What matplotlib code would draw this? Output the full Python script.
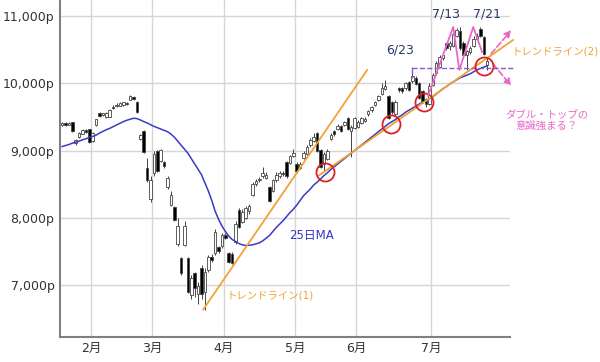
import numpy as np
import matplotlib
matplotlib.use("Agg")
import matplotlib.pyplot as plt

plt.rcParams['font.family'] = ['DejaVu Sans', 'Noto Sans CJK JP']

# 日足 (2020/1/21 - 7/27), 値はチャートから読み取り
opens = [9380, 9400, 9390, 9420, 9110, 9200, 9250, 9300, 9310,
         9150, 9380, 9560, 9530, 9500, 9510, 9650, 9660, 9670, 9680, 9700, 9760, 9790, 9720, 9170, 9290, 8740, 8280,
         8670, 8990, 8850, 8820, 8460, 8190, 8160, 7620, 7400, 7600, 7400, 6860, 7180, 6880, 7250, 6900, 7230, 7420, 7480, 7560, 7580,
         7740, 7470, 7460, 7640, 8120, 7950, 8000, 8100, 8340, 8510, 8560, 8620, 8600, 8450, 8400, 8560, 8620, 8670, 8830, 8820, 8930,
         8790, 8750, 8900, 8960, 9080, 9150, 9250, 9000, 8800, 8880, 9180, 9280, 9320, 9360, 9380, 9480, 9300, 9340,
         9350, 9420, 9450, 9540, 9600, 9680, 9760, 9850, 9920, 9800, 9720, 9550, 9920, 9930, 9930, 10020, 10030, 10080, 10000, 9880, 9760, 9700,
         9980, 10150, 10250, 10380, 10590, 10550, 10560, 10700, 10770, 10600, 10420, 10470, 10560, 10660, 10800, 10680, 10280]
closes = [9400, 9390, 9410, 9300, 9150, 9250, 9300, 9280, 9130,
          9260, 9460, 9520, 9550, 9560, 9600, 9640, 9680, 9700, 9710, 9690, 9800, 9770, 9580, 9220, 8980, 8560, 8560,
          8940, 8700, 9000, 8780, 8590, 8340, 7970, 7880, 7180, 7880, 6900, 7100, 6960, 6980, 6880, 7200, 7420, 7380, 7790, 7510, 7740,
          7700, 7350, 7340, 7900, 7870, 8090, 8150, 8170, 8500, 8540, 8580, 8660, 8640, 8250, 8560, 8640, 8660, 8650, 8620, 8910, 8960,
          8700, 8800, 8960, 9050, 9150, 9200, 9000, 8760, 8950, 8990, 9230, 9250, 9360, 9300, 9420, 9320, 9350, 9480,
          9420, 9480, 9470, 9580, 9640, 9720, 9810, 9930, 9960, 9490, 9580, 9720, 9900, 9890, 10000, 9900, 10100, 10000, 9790, 9740, 9700, 9960,
          10120, 10300, 10380, 10420, 10520, 10590, 10720, 10780, 10520, 10430, 10470, 10520, 10660, 10700, 10700, 10440, 10330]
highs = [9420, 9420, 9430, 9430, 9170, 9270, 9320, 9320, 9320,
         9280, 9470, 9580, 9560, 9570, 9620, 9670, 9700, 9720, 9720, 9720, 9820, 9810, 9730, 9240, 9300, 8890, 8620,
         9000, 9010, 9030, 8850, 8620, 8400, 8180, 8000, 7420, 7950, 7420, 7150, 7200, 7050, 7300, 7250, 7450, 7460, 7830, 7590, 7780,
         7780, 7500, 7490, 7950, 8150, 8140, 8180, 8200, 8540, 8580, 8610, 8760, 8680, 8470, 8580, 8680, 8700, 8700, 8850, 8940, 9020,
         8830, 8830, 9000, 9080, 9180, 9260, 9280, 9020, 8980, 9020, 9260, 9300, 9400, 9380, 9440, 9500, 9380, 9500,
         9450, 9500, 9500, 9600, 9660, 9740, 9830, 10010, 10050, 9820, 9740, 9750, 9950, 9950, 10020, 10040, 10240, 10110, 10020, 9900, 9780, 10000,
         10150, 10330, 10420, 10460, 10600, 10620, 10750, 10820, 10830, 10620, 10500, 10550, 10700, 10750, 10830, 10700, 10380]
lows = [9360, 9370, 9380, 9280, 9090, 9190, 9240, 9260, 9110,
        9130, 9370, 9500, 9510, 9490, 9500, 9620, 9650, 9660, 9660, 9670, 9750, 9750, 9560, 9150, 8960, 8540, 8230,
        8630, 8680, 8830, 8740, 8430, 8170, 7960, 7580, 7160, 7580, 6880, 6800, 6820, 6720, 6800, 6640, 7200, 7350, 7450, 7480, 7560,
        7680, 7330, 7320, 7620, 7850, 7920, 7980, 8060, 8320, 8480, 8530, 8600, 8580, 8230, 8380, 8540, 8600, 8620, 8600, 8800, 8900,
        8660, 8720, 8880, 8940, 9060, 9130, 8980, 8740, 8700, 8860, 9160, 9220, 9300, 9280, 9360, 9300, 8900, 9320,
        9330, 9400, 9420, 9520, 9580, 9660, 9740, 9830, 9900, 9470, 9550, 9520, 9870, 9860, 9900, 9880, 10000, 9980, 9770, 9700, 9650, 9680,
        9960, 10120, 10230, 10350, 10500, 10500, 10540, 10680, 10500, 10410, 10200, 10440, 10540, 10640, 10680, 10420, 10200]
ma25 = [9060, 9075, 9090, 9110, 9125, 9140, 9160, 9175, 9195,
        9210, 9230, 9260, 9285, 9310, 9330, 9355, 9380, 9405, 9430, 9450, 9465, 9480, 9475, 9455, 9430, 9410, 9385,
        9360, 9340, 9320, 9300, 9280, 9245, 9200, 9140, 9080, 9020, 8960, 8880, 8800, 8720, 8640, 8520, 8400, 8260, 8100, 7980, 7880,
        7800, 7730, 7680, 7650, 7620, 7600, 7590, 7595, 7600, 7615, 7630, 7660, 7700, 7740, 7800, 7860, 7910, 7960, 8020, 8080, 8130,
        8190, 8260, 8330, 8380, 8430, 8490, 8530, 8580, 8630, 8670, 8720, 8760, 8800, 8840, 8880, 8920, 8960, 9000,
        9040, 9080, 9120, 9160, 9200, 9240, 9280, 9320, 9360, 9400, 9430, 9460, 9500, 9530, 9570, 9600, 9630, 9660, 9690, 9720, 9740, 9770,
        9800, 9840, 9880, 9920, 9950, 9990, 10020, 10050, 10080, 10100, 10120, 10140, 10170, 10200, 10220, 10240, 10260]

month_labels = ["2月", "3月", "4月", "5月", "6月", "7月"]
month_start = [9, 27, 48, 69, 87, 109]   # 各月の最初の営業日
yticks = [7000, 8000, 9000, 10000, 11000]

opens = np.array(opens)
closes = np.array(closes)
highs = np.array(highs)
lows = np.array(lows)
x = np.arange(len(closes))

fig = plt.figure(figsize=(6.0, 3.62), dpi=100)
ax = fig.add_axes([0.1, 0.07, 0.75, 0.93])

# グリッド
ax.set_yticks(yticks)
ax.set_yticklabels([f"{v:,}p" for v in yticks], fontsize=9, color='#333333')
ax.set_xticks(np.array(month_start) - 0.5)
ax.set_xticklabels(month_labels, fontsize=9, color='#333333')
ax.grid(True, color='#d6d6d6', linewidth=1.0)
ax.set_axisbelow(True)
ax.tick_params(length=0, pad=4)
for s in ['top', 'right']:
    ax.spines[s].set_visible(False)
for s in ['left', 'bottom']:
    ax.spines[s].set_color('#808080')
    ax.spines[s].set_linewidth(1.5)

# ローソク足
up = closes >= opens
ax.vlines(x, lows, highs, color='#444444', linewidth=0.7, zorder=2)
ax.bar(x, np.abs(closes - opens) + 8, bottom=np.minimum(opens, closes) - 4, width=0.75,
       color=np.where(up, 'white', 'black'), edgecolor='#444444', linewidth=0.6, zorder=3)

# 25日移動平均
ax.plot(x, ma25, color='#3a3ac4', linewidth=1.1, zorder=4)

# トレンドライン
orange = '#f2a236'
ax.plot([41.5, 89.7], [6640, 10197], color=orange, linewidth=1.3, zorder=5)
ax.plot([75.3, 132.6], [8623, 10642], color=orange, linewidth=1.3, zorder=5, clip_on=False)

# 赤丸
ax.plot([77.3, 96.8, 106.5, 124.1], [8684, 9396, 9722, 10256], 'o', ms=13,
        mfc='none', mec='#e02020', mew=1.3, zorder=6)

# ダブルトップ
pink = '#e868c8'
ax.plot([107.6, 115.0, 116.8, 120.9, 123.5], [9811, 10835, 10197, 10835, 10464],
        color=pink, linewidth=1.3, zorder=6)
ax.plot([102.9, 132.6], [10227, 10227], color='#8a5cc8', linestyle='--', linewidth=1.0,
        zorder=5, clip_on=False)
ax.plot([102.9, 102.9], [10227, 10080], color='#8a5cc8', linestyle='--', linewidth=1.0, zorder=5)
ax.annotate("", xy=(132.6, 10820), xytext=(125.6, 10405), annotation_clip=False,
            arrowprops=dict(arrowstyle='-|>', color=pink, linestyle='--', linewidth=1.2))
ax.annotate("", xy=(132.6, 9930), xytext=(126.2, 10316), annotation_clip=False,
            arrowprops=dict(arrowstyle='-|>', color=pink, linestyle='--', linewidth=1.2))

# テキスト
navy = '#2b3a67'
ax.text(99.4, 10494, "6/23", fontsize=9, color=navy, ha='center', va='center')
ax.text(112.9, 11028, "7/13", fontsize=9, color=navy, ha='center', va='center', clip_on=False)
ax.text(125.0, 11028, "7/21", fontsize=9, color=navy, ha='center', va='center', clip_on=False)
ax.text(73.2, 7735, "25日MA", fontsize=8.5, color='#3535c0', ha='center', va='center')
ax.text(61.2, 6847, "トレンドライン(1)", fontsize=7.5, color=orange, ha='center', va='center')
ax.text(145.0, 10464, "トレンドライン(2)", fontsize=7.5, color=orange, ha='center', va='center',
        clip_on=False)
ax.text(142.6, 9460, "ダブル・トップの\n意識強まる？", fontsize=7.5, color=pink, ha='center',
        va='center', linespacing=1.2, clip_on=False)

ax.set_xlim(-0.62, 131.7)
ax.set_ylim(6237, 11236)

fig.savefig("out.png", dpi=100)
